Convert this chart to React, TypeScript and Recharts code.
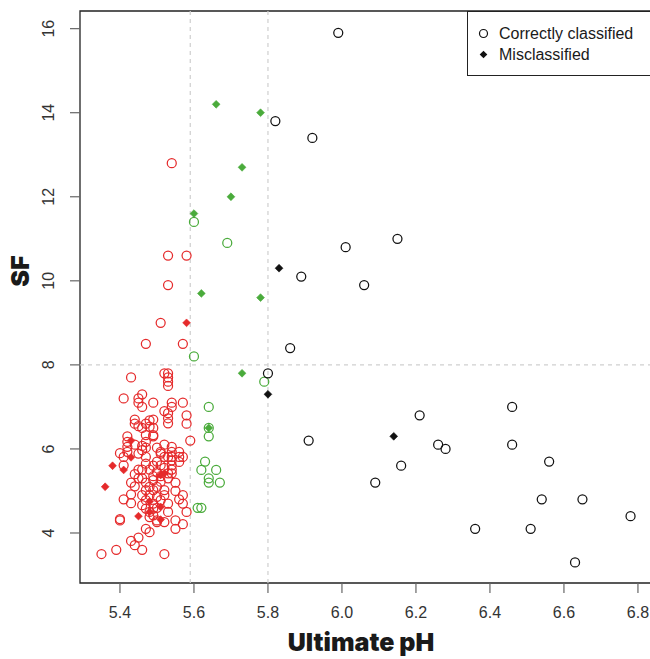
import React from 'react';
import {
  ScatterChart,
  Scatter,
  XAxis,
  YAxis,
  ReferenceLine,
  ReferenceArea,
} from 'recharts';

const RED = '#e52a2b';
const GREEN = '#4aab3b';
const BLACK = '#111111';

// [ultimate pH, SF]
const redCorrect: [number, number][] = [
  [5.54, 12.8], [5.53, 10.6], [5.58, 10.6], [5.53, 9.9], [5.51, 9.0], [5.47, 8.5], [5.57, 8.5],
  [5.43, 7.7], [5.52, 7.8], [5.53, 7.8], [5.53, 7.7], [5.53, 7.6], [5.53, 7.5],
  [5.41, 7.2], [5.45, 7.2], [5.46, 7.3], [5.45, 7.1], [5.46, 7.0], [5.49, 7.1], [5.54, 7.1],
  [5.54, 7.0], [5.57, 7.1],
  [5.52, 6.9], [5.53, 6.85], [5.53, 6.73], [5.53, 6.61], [5.58, 6.8], [5.58, 6.6],
  [5.44, 6.7], [5.44, 6.6], [5.45, 6.54], [5.46, 6.5], [5.48, 6.68], [5.49, 6.7], [5.47, 6.6],
  [5.48, 6.53], [5.49, 6.5], [5.49, 6.3], [5.59, 6.2], [5.42, 6.3], [5.42, 6.17], [5.42, 6.05],
  [5.42, 5.93], [5.4, 5.9], [5.47, 6.33], [5.47, 6.17], [5.49, 6.33], [5.44, 6.1], [5.46, 6.07],
  [5.47, 6.03], [5.46, 5.97], [5.5, 6.03], [5.51, 5.93], [5.52, 6.1], [5.54, 5.93], [5.54, 6.05],
  [5.56, 5.93], [5.56, 5.81], [5.57, 5.81], [5.56, 5.69], [5.54, 5.73], [5.54, 5.81], [5.53, 5.81],
  [5.52, 5.81], [5.51, 5.89], [5.54, 5.61], [5.54, 5.51], [5.51, 5.61],
  [5.41, 5.81], [5.41, 5.61], [5.45, 5.89], [5.47, 5.81], [5.47, 5.65], [5.45, 5.51], [5.46, 5.51],
  [5.48, 5.51], [5.49, 5.6], [5.5, 5.7],
  [5.49, 5.35], [5.49, 5.26], [5.51, 5.35], [5.51, 5.22], [5.53, 5.42], [5.54, 5.42], [5.55, 5.2],
  [5.43, 5.2], [5.44, 5.11], [5.43, 4.92], [5.43, 4.71], [5.41, 4.8],
  [5.46, 5.3], [5.47, 5.2], [5.48, 5.1], [5.5, 5.1], [5.5, 5.45], [5.52, 5.55], [5.44, 5.4],
  [5.45, 5.3], [5.53, 5.3], [5.55, 5.0], [5.56, 4.8], [5.46, 4.9], [5.52, 4.9], [5.49, 4.7],
  [5.5, 4.6],
  [5.47, 5.02], [5.48, 4.9], [5.47, 4.78], [5.49, 5.02], [5.5, 4.86], [5.51, 4.78], [5.52, 5.02],
  [5.57, 4.9], [5.57, 4.7], [5.58, 4.5], [5.53, 4.5], [5.53, 4.7],
  [5.46, 4.66], [5.47, 4.58], [5.48, 4.5], [5.49, 4.58], [5.48, 4.38], [5.49, 4.42], [5.5, 4.3],
  [5.4, 4.3], [5.4, 4.33], [5.55, 4.3], [5.57, 4.21], [5.55, 4.1], [5.52, 4.26], [5.5, 4.26],
  [5.47, 4.1], [5.48, 4.02],
  [5.45, 3.89], [5.44, 3.71], [5.43, 3.81], [5.46, 3.6], [5.39, 3.6], [5.35, 3.5], [5.52, 3.5],
];

const redMis: [number, number][] = [
  [5.58, 9.0], [5.43, 6.2], [5.43, 5.8], [5.38, 5.6], [5.41, 5.5], [5.36, 5.1], [5.51, 5.38],
  [5.52, 5.42], [5.45, 4.4], [5.48, 4.75], [5.51, 4.62], [5.51, 4.32], [5.48, 4.5],
];

const greenCorrect: [number, number][] = [
  [5.6, 11.4], [5.69, 10.9], [5.6, 8.2], [5.79, 7.6], [5.64, 7.0], [5.64, 6.5], [5.64, 6.3],
  [5.63, 5.7], [5.62, 5.5], [5.66, 5.5], [5.64, 5.3], [5.64, 5.2], [5.67, 5.2], [5.61, 4.6],
  [5.62, 4.6],
];

const greenMis: [number, number][] = [
  [5.66, 14.2], [5.78, 14.0], [5.73, 12.7], [5.7, 12.0], [5.6, 11.6], [5.62, 9.7], [5.78, 9.6],
  [5.73, 7.8], [5.64, 6.5],
];

const blackCorrect: [number, number][] = [
  [5.99, 15.9], [5.82, 13.8], [5.92, 13.4], [6.01, 10.8], [6.15, 11.0], [5.89, 10.1], [6.06, 9.9],
  [5.86, 8.4], [5.8, 7.8], [5.91, 6.2], [6.21, 6.8], [6.46, 7.0], [6.26, 6.1], [6.28, 6.0],
  [6.46, 6.1], [6.56, 5.7], [6.16, 5.6], [6.09, 5.2], [6.54, 4.8], [6.65, 4.8], [6.36, 4.1],
  [6.51, 4.1], [6.78, 4.4], [6.63, 3.3],
];

const blackMis: [number, number][] = [
  [5.83, 10.3], [5.8, 7.3], [6.14, 6.3],
];

const xTicks = [5.4, 5.6, 5.8, 6.0, 6.2, 6.4, 6.6, 6.8];
const yTicks = [4, 6, 8, 10, 12, 14, 16];
const X_DOMAIN: [number, number] = [5.292, 6.838];
const Y_DOMAIN: [number, number] = [2.81, 16.42];

const toPoints = (rows: [number, number][]) => rows.map(([ph, sf]) => ({ ph, sf }));

const openCircle = (color: string) => (props: any) => (
  <circle cx={props.cx} cy={props.cy} r={4.5} fill="none" stroke={color} strokeWidth={1.25} />
);

const diamond = (color: string) => (props: any) => {
  const { cx, cy } = props;
  const h = 3.9;
  return (
    <polygon
      points={`${cx},${cy - h} ${cx + h},${cy} ${cx},${cy + h} ${cx - h},${cy}`}
      fill={color}
      stroke={color}
      strokeWidth={0.6}
    />
  );
};

const AXIS_FONT = '"Liberation Sans", Arial, sans-serif';
const HEAVY_FONT = 'Inter, "Liberation Sans", sans-serif';

const YTick = (props: any) => {
  const { x, y, payload } = props;
  return (
    <text
      x={x}
      y={y}
      transform={`rotate(-90, ${x}, ${y})`}
      textAnchor="middle"
      fill="#333"
      fontSize={16}
      fontFamily={AXIS_FONT}
    >
      {payload.value}
    </text>
  );
};

export default function App() {
  return (
    <div
      style={{
        position: 'absolute',
        left: 0,
        top: 0,
        width: 650,
        height: 659,
        overflow: 'hidden',
        background: '#fff',
      }}
    >
      <ScatterChart width={660} height={659} margin={{ top: 11, right: 8, bottom: 0, left: 0 }}>
        <XAxis
          type="number"
          dataKey="ph"
          domain={X_DOMAIN}
          ticks={xTicks}
          allowDataOverflow
          height={76}
          axisLine={false}
          tickSize={10}
          tickMargin={14}
          tickLine={{ stroke: '#666', strokeWidth: 1.2 }}
          tick={{ fill: '#333', fontSize: 16, fontFamily: AXIS_FONT }}
          tickFormatter={(v: number) => v.toFixed(1)}
          label={{
            value: 'Ultimate pH',
            position: 'insideBottom',
            offset: 8,
            dx: -5,
            style: { fill: '#1a1a1a', fontSize: 25, fontWeight: 900, fontFamily: HEAVY_FONT },
          }}
        />
        <YAxis
          type="number"
          dataKey="sf"
          domain={Y_DOMAIN}
          ticks={yTicks}
          allowDataOverflow
          width={80}
          axisLine={false}
          tickSize={10}
          tickMargin={16}
          tickLine={{ stroke: '#666', strokeWidth: 1.2 }}
          tick={<YTick />}
          label={{
            value: 'SF',
            angle: -90,
            position: 'insideLeft',
            offset: 20,
            dy: -26,
            style: { fill: '#1a1a1a', fontSize: 25, fontWeight: 900, fontFamily: HEAVY_FONT, textAnchor: 'middle' },
          }}
        />
        <ReferenceLine x={5.59} stroke="#cfcfcf" strokeWidth={1.2} strokeDasharray="4 4" />
        <ReferenceLine x={5.8} stroke="#cfcfcf" strokeWidth={1.2} strokeDasharray="4 4" />
        <ReferenceLine y={8} stroke="#cfcfcf" strokeWidth={1.2} strokeDasharray="4 4" />
        <ReferenceArea
          x1={X_DOMAIN[0]}
          x2={X_DOMAIN[1]}
          y1={Y_DOMAIN[0]}
          y2={Y_DOMAIN[1]}
          fill="none"
          fillOpacity={0}
          stroke="#222"
          strokeWidth={1.3}
        />
        <Scatter data={toPoints(redCorrect)} shape={openCircle(RED)} isAnimationActive={false} />
        <Scatter data={toPoints(greenCorrect)} shape={openCircle(GREEN)} isAnimationActive={false} />
        <Scatter data={toPoints(blackCorrect)} shape={openCircle(BLACK)} isAnimationActive={false} />
        <Scatter data={toPoints(redMis)} shape={diamond(RED)} isAnimationActive={false} />
        <Scatter data={toPoints(greenMis)} shape={diamond(GREEN)} isAnimationActive={false} />
        <Scatter data={toPoints(blackMis)} shape={diamond(BLACK)} isAnimationActive={false} />
      </ScatterChart>

      {/* legend box, runs off the right edge together with the plot frame */}
      <div
        style={{
          position: 'absolute',
          left: 467,
          top: 11,
          width: 200,
          height: 63,
          border: '1.3px solid #222',
          background: '#fff',
          fontFamily: AXIS_FONT,
          fontSize: 16,
          color: '#1a1a1a',
        }}
      >
        <svg width={30} height={63} style={{ position: 'absolute', left: 0, top: 0 }}>
          <circle cx={15.5} cy={21.5} r={4} fill="none" stroke={BLACK} strokeWidth={1.2} />
          <polygon points="15.5,38.7 19.3,42.5 15.5,46.3 11.7,42.5" fill={BLACK} />
        </svg>
        <div style={{ position: 'absolute', left: 31, top: 12, lineHeight: '20px', whiteSpace: 'nowrap' }}>
          Correctly classified
        </div>
        <div style={{ position: 'absolute', left: 31, top: 33, lineHeight: '20px', whiteSpace: 'nowrap' }}>
          Misclassified
        </div>
      </div>
    </div>
  );
}
